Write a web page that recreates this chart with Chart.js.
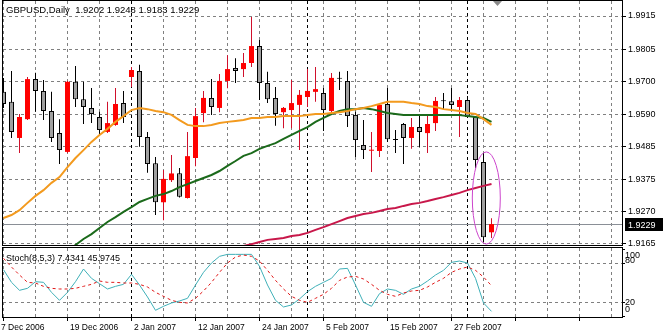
<!DOCTYPE html>
<html>
<head>
<meta charset="utf-8">
<title>GBPUSD Daily</title>
<script src="https://cdn.jsdelivr.net/npm/chart.js@4.4.1/dist/chart.umd.min.js"></script>
<style>
  html, body { margin: 0; padding: 0; background: #fff; }
  canvas { position: absolute; left: 0; display: block; }
  #priceChart { top: 0; }
  #stochChart { top: 247px; }
</style>
</head>
<body>
<canvas id="priceChart" width="663" height="247"></canvas>
<canvas id="stochChart" width="663" height="88"></canvas>
<script>
// =============== Data
const symbol = 'GBPUSD';
const period = 'Daily';
const dateLabels = ['7 Dec 2006', '19 Dec 2006', '2 Jan 2007', '12 Jan 2007', '24 Jan 2007', '5 Feb 2007', '15 Feb 2007', '27 Feb 2007'];
const monthStarts = [16, 38, 58];
const priceTicks = [1.9165, 1.9270, 1.9375, 1.9485, 1.9590, 1.9700, 1.9805, 1.9915];
const stochTicks = [0, 20, 80, 100];
const stochParams = [8, 5, 3];

const opens = [1.9665, 1.9632, 1.9513, 1.9575, 1.9707, 1.9668, 1.9602, 1.9529, 1.9467, 1.9698,
    1.9641, 1.9612, 1.9582, 1.9533, 1.9556, 1.9628, 1.9714, 1.9734, 1.9516, 1.9430,
    1.9301, 1.9374, 1.9397, 1.9315, 1.9447, 1.9595, 1.9645, 1.9612, 1.9701, 1.9744,
    1.9740, 1.9760, 1.9816, 1.9694, 1.9645, 1.9598, 1.9605, 1.9622, 1.9648, 1.9665,
    1.9661, 1.9602, 1.9710, 1.9701, 1.9589, 1.9490, 1.9471, 1.9470, 1.9625, 1.9508,
    1.9559, 1.9513, 1.9549, 1.9529, 1.9562, 1.9635, 1.9634, 1.9615, 1.9638, 1.9582,
    1.9434, 1.9202];
const highs = [1.9711, 1.9734, 1.9592, 1.9714, 1.9728, 1.9704, 1.9665, 1.9575, 1.9701, 1.9750,
    1.9698, 1.9678, 1.9599, 1.9632, 1.9678, 1.9668, 1.9747, 1.9754, 1.9533, 1.9450,
    1.9407, 1.9457, 1.9414, 1.9533, 1.9612, 1.9668, 1.9707, 1.9724, 1.9786, 1.9776,
    1.9793, 1.9912, 1.9836, 1.9731, 1.9681, 1.9615, 1.9704, 1.9671, 1.9740, 1.9747,
    1.9678, 1.9727, 1.9731, 1.9734, 1.9599, 1.9572, 1.9533, 1.9628, 1.9678, 1.9539,
    1.9562, 1.9579, 1.9589, 1.9592, 1.9648, 1.9661, 1.9678, 1.9648, 1.9651, 1.9585,
    1.9463, 1.9248];
const lows = [1.9612, 1.9513, 1.9463, 1.9572, 1.9599, 1.9572, 1.9500, 1.9427, 1.9463, 1.9615,
    1.9559, 1.9562, 1.9523, 1.9529, 1.9553, 1.9562, 1.9681, 1.9484, 1.9398, 1.9259,
    1.9242, 1.9368, 1.9317, 1.9313, 1.9420, 1.9565, 1.9589, 1.9598, 1.9677, 1.9694,
    1.9714, 1.9747, 1.9638, 1.9628, 1.9553, 1.9545, 1.9545, 1.9473, 1.9615, 1.9632,
    1.9536, 1.9596, 1.9671, 1.9549, 1.9450, 1.9444, 1.9401, 1.9450, 1.9500, 1.9463,
    1.9427, 1.9477, 1.9483, 1.9463, 1.9536, 1.9605, 1.9605, 1.9516, 1.9579, 1.9414,
    1.9170, 1.9183];
const closes = [1.9625, 1.9533, 1.9582, 1.9707, 1.9668, 1.9602, 1.9513, 1.9473, 1.9698, 1.9641,
    1.9615, 1.9592, 1.9539, 1.9562, 1.9625, 1.9582, 1.9737, 1.9516, 1.9427, 1.9301,
    1.9378, 1.9396, 1.9319, 1.9453, 1.9585, 1.9645, 1.9615, 1.9701, 1.9740, 1.9734,
    1.9760, 1.9816, 1.9694, 1.9641, 1.9592, 1.9612, 1.9628, 1.9655, 1.9668, 1.9674,
    1.9605, 1.9711, 1.9708, 1.9585, 1.9506, 1.9473, 1.9474, 1.9622, 1.9509, 1.9506,
    1.9513, 1.9549, 1.9533, 1.9559, 1.9635, 1.9634, 1.9622, 1.9638, 1.9582, 1.9440,
    1.9186, 1.9229];

const maOrange = [1.9249, 1.9259, 1.9275, 1.9299, 1.9322, 1.9341, 1.9365, 1.9384, 1.9417, 1.9447,
    1.9473, 1.9500, 1.9523, 1.9543, 1.9566, 1.9585, 1.9605, 1.9612, 1.9608, 1.9602,
    1.9598, 1.9589, 1.9572, 1.9556, 1.9552, 1.9552, 1.9556, 1.9562, 1.9566, 1.9569,
    1.9572, 1.9579, 1.9579, 1.9582, 1.9582, 1.9585, 1.9585, 1.9585, 1.9589, 1.9592,
    1.9592, 1.9595, 1.9598, 1.9602, 1.9608, 1.9612, 1.9618, 1.9625, 1.9632, 1.9632,
    1.9632, 1.9628, 1.9625, 1.9618, 1.9615, 1.9608, 1.9605, 1.9602, 1.9595, 1.9592,
    1.9575, 1.9556];
const maGreen = [null, null, null, null, null, null, null, null, 1.9140, 1.9160,
    1.9180, 1.9196, 1.9216, 1.9236, 1.9252, 1.9269, 1.9285, 1.9302, 1.9312, 1.9322,
    1.9328, 1.9338, 1.9351, 1.9361, 1.9371, 1.9381, 1.9391, 1.9404, 1.9421, 1.9437,
    1.9454, 1.9463, 1.9477, 1.9487, 1.9496, 1.9510, 1.9523, 1.9536, 1.9549, 1.9566,
    1.9579, 1.9592, 1.9602, 1.9608, 1.9608, 1.9612, 1.9608, 1.9602, 1.9595, 1.9592,
    1.9589, 1.9589, 1.9589, 1.9589, 1.9589, 1.9589, 1.9589, 1.9589, 1.9585, 1.9582,
    1.9579, 1.9566];
const maCrimson = [null, null, null, null, null, null, null, null, null, null,
    null, null, null, null, null, null, null, null, null, null,
    null, null, null, null, null, null, null, null, null, null,
    1.9157, 1.9163, 1.9170, 1.9177, 1.9180, 1.9183, 1.9190, 1.9193, 1.9200, 1.9210,
    1.9219, 1.9229, 1.9239, 1.9249, 1.9256, 1.9262, 1.9266, 1.9272, 1.9279, 1.9282,
    1.9289, 1.9295, 1.9299, 1.9305, 1.9312, 1.9318, 1.9325, 1.9332, 1.9341, 1.9348,
    1.9355, 1.9361];

const stochMain = [70, 51, 39, 42, 52, 51, 36, 24, 36, 52,
    71, 57, 49, 41, 45, 48, 63, 47, 29, 9,
    15, 20, 23, 27, 47, 66, 80, 90, 93, 93,
    93, 93, 75, 47, 24, 14, 17, 26, 37, 45,
    51, 57, 71, 72, 47, 21, 15, 34, 41, 39,
    33, 41, 45, 53, 62, 69, 81, 83, 80, 57,
    20, 7.4341];
const stochSignal = [87, 74, 62, 51, 50, 45, 42, 41, 41, 42,
    45, 48, 53, 51, 51, 50, 50, 48, 44, 36,
    30, 24, 21, 20, 27, 38, 51, 66, 80, 89,
    92, 90, 83, 69, 54, 41, 30, 24, 21, 27,
    33, 42, 54, 59, 60, 56, 48, 39, 33, 30,
    35, 38, 39, 44, 51, 57, 66, 71, 74, 69,
    59, 45.9745];

// circled area (drawn object), in bar / price units
const circleBars = [58.6, 62.1];
const circlePrices = [1.9163, 1.9467];

// =============== Styles
const FONT = 'Liberation Sans, Arial, sans-serif';
const GRID = '#808080';
const UP_BODY = '#ff0000';
const UP_WICK = '#d0102c';
const DOWN_BODY = '#a0a0a0';
const X_MIN = -0.0625;
const X_MAX = 77.3125;

const N = closes.length;
const isUp = closes.map((c, i) => c > opens[i]);
const pts = arr => arr.map((v, i) => ({ x: i, y: v }));

function timeAxis(height, marks) {
    return {
        type: 'linear', min: X_MIN, max: X_MAX, offset: false,
        afterBuildTicks: s => {
            const t = [];
            for (let v = 0; v <= X_MAX; v += 4) t.push({ value: v });
            s.ticks = t;
        },
        grid: {
            offset: false, color: GRID, lineWidth: 1, drawTicks: marks, tickLength: 4,
            tickColor: c => (c.index % 2 === 0 ? '#000' : 'rgba(0,0,0,0)'), tickBorderDash: []
        },
        border: { display: false, dash: [3, 3] },
        ticks: { display: false },
        afterFit: s => { s.height = height; s.paddingLeft = 0; s.paddingRight = 0; }
    };
}

function drawFrame(chart) {
    const { ctx, chartArea: a } = chart;
    ctx.save();
    ctx.strokeStyle = '#000';
    ctx.lineWidth = 1;
    ctx.setLineDash([]);
    ctx.strokeRect(a.left - 0.5, a.top - 0.5, a.right - a.left + 1, a.bottom - a.top + 1);
    ctx.restore();
}

function drawSeparators(chart) {
    const { ctx, chartArea: a, scales: { x } } = chart;
    ctx.save();
    ctx.strokeStyle = '#000';
    ctx.lineWidth = 1;
    ctx.setLineDash([3, 3]);
    monthStarts.forEach(i => {
        const px = Math.floor(x.getPixelForValue(i)) + 0.5;
        ctx.beginPath();
        ctx.moveTo(px, a.top);
        ctx.lineTo(px, a.bottom);
        ctx.stroke();
    });
    ctx.restore();
}

// =============== Price chart
const pricePlugin = {
    id: 'priceExtras',
    beforeDatasetsDraw(chart) {
        const { ctx, chartArea: a, scales: { y } } = chart;
        drawSeparators(chart);
        const py = Math.floor(y.getPixelForValue(closes[N - 1])) + 0.5;
        ctx.save();
        ctx.strokeStyle = '#8a8f96';
        ctx.lineWidth = 1;
        ctx.beginPath();
        ctx.moveTo(a.left, py);
        ctx.lineTo(a.right, py);
        ctx.stroke();
        ctx.restore();
    },
    afterDraw(chart) {
        const { ctx, chartArea: a, scales: { x, y } } = chart;
        // ellipse object
        const x0 = x.getPixelForValue(circleBars[0]), x1 = x.getPixelForValue(circleBars[1]);
        const y0 = y.getPixelForValue(circlePrices[1]), y1 = y.getPixelForValue(circlePrices[0]);
        ctx.save();
        ctx.strokeStyle = '#cc44cc';
        ctx.lineWidth = 1;
        ctx.beginPath();
        ctx.ellipse((x0 + x1) / 2, (y0 + y1) / 2, (x1 - x0) / 2, (y1 - y0) / 2, 0, 0, Math.PI * 2);
        ctx.stroke();
        ctx.restore();

        drawFrame(chart);

        // chart shift marker
        const sx = x.getPixelForValue(N - 1) + 6;
        ctx.save();
        ctx.fillStyle = '#8a8a8a';
        ctx.beginPath();
        ctx.moveTo(sx - 4.5, a.top);
        ctx.lineTo(sx + 4.5, a.top);
        ctx.lineTo(sx, a.top + 5);
        ctx.closePath();
        ctx.fill();

        // title
        ctx.fillStyle = '#000';
        ctx.font = '9.5px ' + FONT;
        ctx.textBaseline = 'alphabetic';
        ctx.textAlign = 'left';
        const title = symbol + ',' + period + '  ' + [opens, highs, lows, closes].map(s => s[N - 1].toFixed(4)).join(' ');
        ctx.fillText(title, 6, 13);

        // bid label
        const py = y.getPixelForValue(closes[N - 1]);
        ctx.fillStyle = '#000';
        ctx.fillRect(a.right + 3, Math.round(py) - 6, 38, 13);
        ctx.fillStyle = '#fff';
        ctx.font = '9px ' + FONT;
        ctx.fillText(closes[N - 1].toFixed(4), a.right + 6, Math.round(py) + 4);
        ctx.restore();
    }
};

new Chart(document.getElementById('priceChart'), {
    type: 'bar',
    data: {
        datasets: [
            {
                type: 'line', label: 'MA orange', data: pts(maOrange), order: 0, clip: 0,
                borderColor: '#f39a1e', borderWidth: 2, pointRadius: 0, tension: 0
            },
            {
                type: 'line', label: 'MA green', data: pts(maGreen), order: 0, clip: 0,
                borderColor: '#1b6a1b', borderWidth: 2, pointRadius: 0, tension: 0
            },
            {
                type: 'line', label: 'MA crimson', data: pts(maCrimson), order: 0, clip: 0,
                borderColor: '#c8174a', borderWidth: 2, pointRadius: 0, tension: 0
            },
            {
                label: 'bodies', order: 1, grouped: false,
                data: opens.map((o, i) => ({ x: i, y: [o, closes[i]] })),
                backgroundColor: isUp.map(u => (u ? UP_BODY : DOWN_BODY)),
                borderColor: isUp.map(u => (u ? UP_BODY : '#000')),
                borderWidth: isUp.map(u => (u ? 0 : 1)),
                borderSkipped: false, inflateAmount: 0, minBarLength: 1, maxBarThickness: 5
            },
            {
                label: 'wicks', order: 2, grouped: false,
                data: lows.map((l, i) => ({ x: i, y: [l, highs[i]] })),
                backgroundColor: isUp.map(u => (u ? UP_WICK : '#000')),
                borderWidth: 0, inflateAmount: 0, maxBarThickness: 1
            }
        ]
    },
    options: {
        responsive: false,
        animation: false,
        events: [],
        layout: { padding: { left: 3, top: 1, right: 0, bottom: 0 }, autoPadding: false },
        plugins: { legend: { display: false }, tooltip: { enabled: false } },
        scales: {
            x: timeAxis(2, false),
            y: {
                position: 'right', min: 1.91601, max: 1.99645,
                afterBuildTicks: s => { s.ticks = priceTicks.map(v => ({ value: v })); },
                grid: { color: GRID, lineWidth: 1, drawTicks: true, tickLength: 4, tickColor: '#000', tickBorderDash: [] },
                border: { display: false, dash: [3, 3] },
                ticks: { color: '#000', padding: 2, font: { family: FONT, size: 9 }, callback: v => v.toFixed(4) },
                afterFit: s => { s.width = 41; s.paddingTop = 0; s.paddingBottom = 0; }
            }
        }
    },
    plugins: [pricePlugin]
});

// =============== Stochastic
const stochShift = { 100: 8, 80: 0, 20: 2, 0: -4 };

const stochPlugin = {
    id: 'stochExtras',
    beforeDatasetsDraw(chart) {
        drawSeparators(chart);
    },
    afterDraw(chart) {
        const { ctx, chartArea: a, scales: { x, y } } = chart;
        drawFrame(chart);
        ctx.save();
        ctx.fillStyle = '#000';
        ctx.textAlign = 'left';
        ctx.textBaseline = 'alphabetic';

        ctx.font = '9px ' + FONT;
        ctx.fillText('Stoch(' + stochParams.join(',') + ') ' + stochMain[N - 1].toFixed(4) + ' ' + stochSignal[N - 1].toFixed(4), 6, 14);

        stochTicks.forEach(v => {
            ctx.fillText(String(v), a.right + 3, y.getPixelForValue(v) + stochShift[v]);
        });

        ctx.font = '8.5px ' + FONT;
        dateLabels.forEach((d, k) => {
            const px = k === 0 ? a.left - 2 : x.getPixelForValue(k * 8) + 2.5;
            ctx.fillText(d, px, a.bottom + 13);
        });
        ctx.restore();
    }
};

new Chart(document.getElementById('stochChart'), {
    type: 'line',
    data: {
        datasets: [
            {
                label: 'Signal', data: pts(stochSignal), order: 0, clip: 0,
                borderColor: '#e01818', borderWidth: 1, borderDash: [3, 3], pointRadius: 0, tension: 0
            },
            {
                label: 'Main', data: pts(stochMain), order: 1, clip: 0,
                borderColor: '#3fb0b8', borderWidth: 1, pointRadius: 0, tension: 0
            }
        ]
    },
    options: {
        responsive: false,
        animation: false,
        events: [],
        layout: { padding: { left: 3, top: 1, right: 0, bottom: 0 }, autoPadding: false },
        plugins: { legend: { display: false }, tooltip: { enabled: false } },
        scales: {
            x: timeAxis(18, true),
            y: {
                position: 'right', min: -1.05, max: 102.55,
                afterBuildTicks: s => { s.ticks = stochTicks.map(v => ({ value: v })); },
                grid: {
                    color: c => (c.tick && (c.tick.value === 20 || c.tick.value === 80) ? GRID : 'rgba(0,0,0,0)'),
                    lineWidth: 1, drawTicks: true, tickLength: 3, tickColor: '#000', tickBorderDash: []
                },
                border: { display: false, dash: [3, 3] },
                ticks: { display: false },
                afterFit: s => { s.width = 41; s.paddingTop = 0; s.paddingBottom = 0; }
            }
        }
    },
    plugins: [stochPlugin]
});
</script>
</body>
</html>
